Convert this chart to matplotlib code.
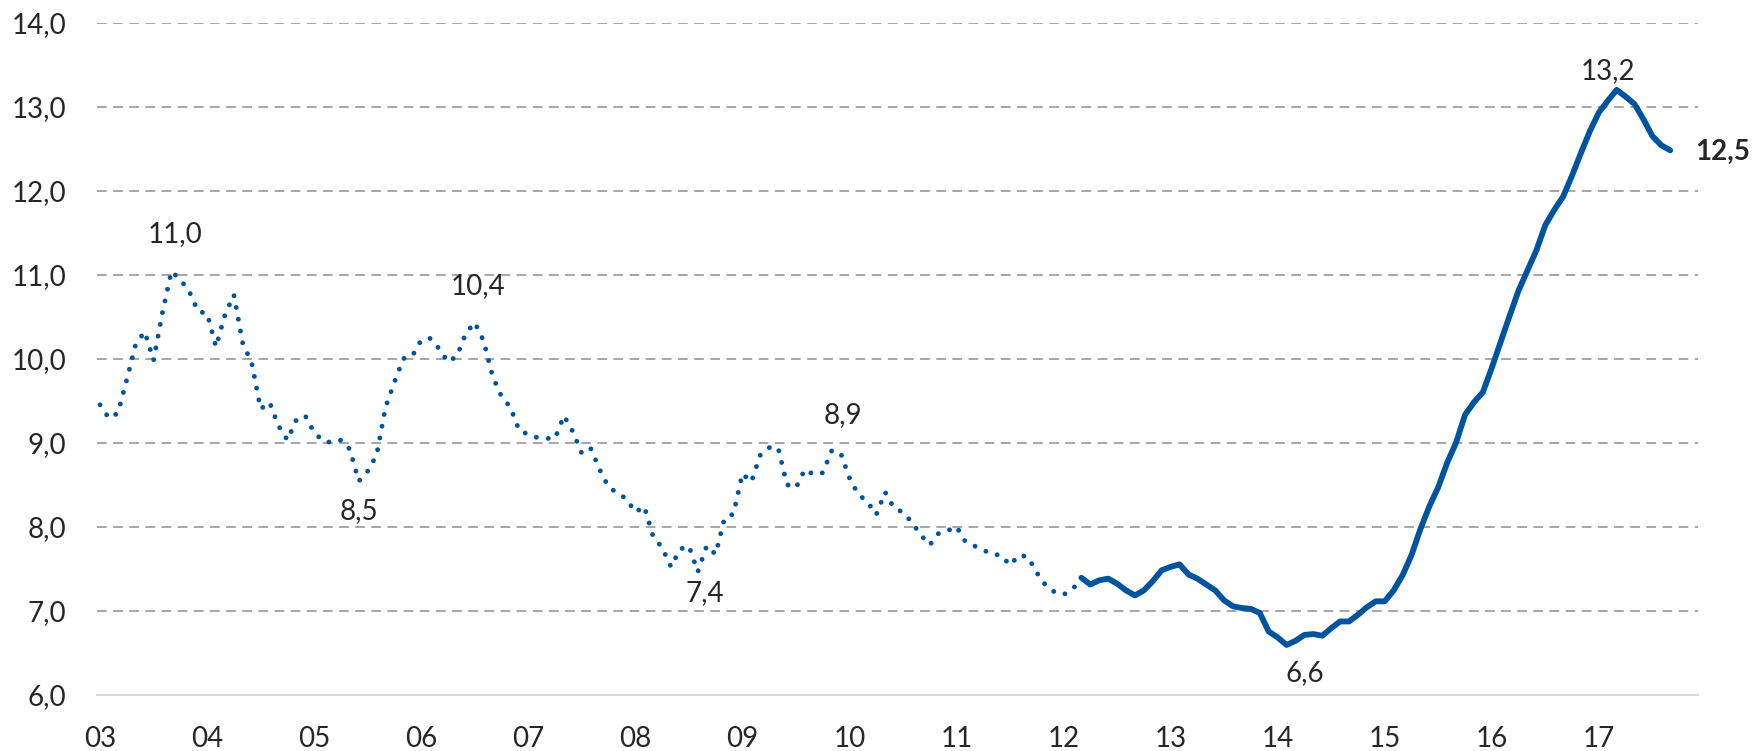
import numpy as np
import matplotlib
matplotlib.use("Agg")
from matplotlib import pyplot as plt

# monthly values, Jan 2003 (index 0) .. Sep 2017
values = [
    9.45, 9.29, 9.35, 9.75, 10.17, 10.32, 9.98, 10.55, 11.04, 10.94, 10.80, 10.56,   # 03
    10.54, 10.14, 10.52, 10.76, 10.18, 9.95, 9.40, 9.48, 9.20, 9.03, 9.27, 9.32,     # 04
    9.12, 9.02, 9.00, 9.03, 8.92, 8.54, 8.66, 8.85, 9.42, 9.72, 10.00, 10.03,        # 05
    10.22, 10.24, 10.12, 9.96, 10.03, 10.30, 10.43, 10.21, 9.79, 9.55, 9.42, 9.14,   # 06
    9.10, 9.06, 9.05, 9.05, 9.32, 9.13, 8.87, 8.93, 8.68, 8.47, 8.40, 8.33,          # 07
    8.17, 8.24, 7.88, 7.75, 7.52, 7.73, 7.77, 7.46, 7.77, 7.67, 8.10, 8.15,          # 08
    8.63, 8.53, 8.85, 8.94, 8.94, 8.50, 8.46, 8.68, 8.62, 8.64, 8.90, 8.88,          # 09
    8.58, 8.38, 8.30, 8.14, 8.41, 8.22, 8.17, 8.05, 7.90, 7.78, 7.92, 7.95,          # 10
    8.00, 7.82, 7.77, 7.72, 7.67, 7.66, 7.54, 7.66, 7.64, 7.45, 7.30, 7.22,          # 11
    7.19, 7.25, 7.39, 7.31, 7.36, 7.38, 7.32, 7.24, 7.18, 7.24, 7.35, 7.48,          # 12
    7.52, 7.55, 7.43, 7.38, 7.31, 7.24, 7.12, 7.05, 7.03, 7.02, 6.97, 6.75,          # 13
    6.68, 6.59, 6.64, 6.71, 6.72, 6.70, 6.79, 6.87, 6.87, 6.95, 7.04, 7.11,          # 14
    7.11, 7.24, 7.42, 7.66, 7.97, 8.24, 8.47, 8.76, 9.00, 9.33, 9.48, 9.60,          # 15
    9.89, 10.20, 10.51, 10.81, 11.05, 11.29, 11.59, 11.77, 11.93, 12.18, 12.45, 12.71,  # 16
    12.93, 13.07, 13.20, 13.12, 13.03, 12.85, 12.65, 12.54, 12.48,                    # 17
]
split = 110  # solid line from Mar 2012
years = ['03', '04', '05', '06', '07', '08', '09', '10', '11', '12', '13', '14', '15', '16', '17']
yticks = [6, 7, 8, 9, 10, 11, 12, 13, 14]

# labelled points: (index, text, offset in pixels)
notes = [
    (8, '11,0', (4, 37)),
    (42, '10,4', (3, 36)),
    (29, '8,5', (0, -30)),
    (67, '7,4', (7, -21)),
    (82, '8,9', (11, 36)),
    (133, '6,6', (18, -28)),
    (170, '13,2', (-9, 19)),
]

blue = '#00539F'
txt = '#262626'
plt.rcParams['font.family'] = ['Lato', 'DejaVu Sans']

fig = plt.figure(figsize=(17.54, 7.51), dpi=100)
ax = fig.add_axes([0.0553, 0.0752, 0.9127, 0.8946])

x = np.arange(len(values))
v = np.array(values)
ax.plot(x[:split + 1], v[:split + 1], color=blue, lw=3.5,
        linestyle=(0, (0.01, 2.45)), dash_capstyle='round')
ax.plot(x[split:], v[split:], color=blue, lw=4.2, solid_capstyle='round',
        solid_joinstyle='round')

for t in yticks[1:]:
    ax.axhline(t, color='#A6A6A6', lw=1.4, linestyle=(0, (5, 3.3)), zorder=0)

ax.set_xlim(-0.34, 179.1)
ax.set_ylim(6, 14)
ax.set_yticks(yticks)
ax.set_yticklabels([f'{t},0' for t in yticks])
ax.set_xticks(np.arange(len(years)) * 12)
ax.set_xticklabels(years)
ax.tick_params(axis='both', length=0, labelsize=20, colors=txt)
ax.tick_params(axis='y', pad=22)
ax.tick_params(axis='x', pad=23)
for s in ['top', 'right', 'left']:
    ax.spines[s].set_visible(False)
ax.spines['bottom'].set_color('#D9D9D9')
ax.spines['bottom'].set_linewidth(1.5)

for i, label, off in notes:
    ax.annotate(label, (x[i], v[i]), xytext=off, textcoords='offset pixels',
                ha='center', va='center', fontsize=20, color=txt)
ax.annotate(f'{values[-1]:.1f}'.replace('.', ','), (x[-1], v[-1]), xytext=(25, -2),
            textcoords='offset pixels', ha='left', va='center', fontsize=20,
            fontweight='bold', color=txt, annotation_clip=False)

fig.savefig('out.png', dpi=100)
